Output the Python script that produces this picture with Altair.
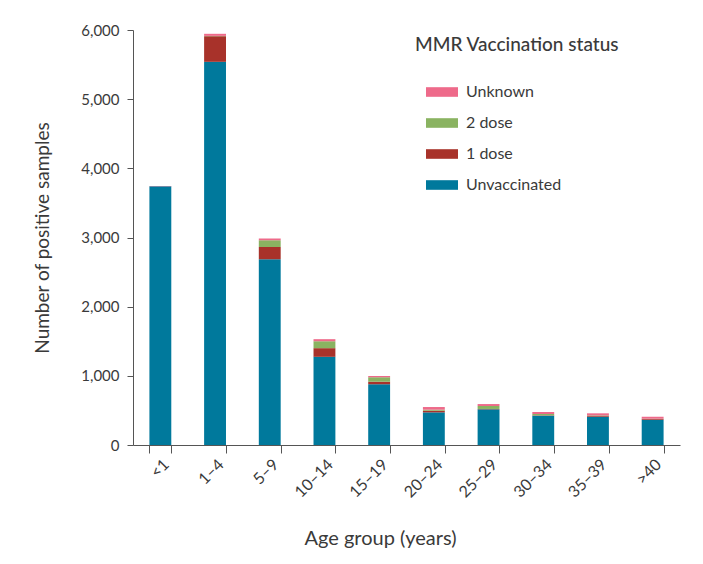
import altair as alt
import pandas as pd

age_groups = ["<1", "1–4", "5–9", "10–14", "15–19", "20–24", "25–29", "30–34", "35–39", ">40"]
unvaccinated = [3740, 5540, 2685, 1275, 877, 472, 516, 424, 409, 366]
dose1 = [0, 370, 177, 125, 38, 24, 5, 5, 15, 10]
dose2 = [0, 5, 100, 100, 63, 15, 43, 19, 5, 5]
unknown = [5, 30, 25, 30, 19, 38, 28, 29, 29, 28]

statuses = ["Unknown", "2 dose", "1 dose", "Unvaccinated"]
colors = ["#EE6A8A", "#8AB361", "#A8322A", "#00799C"]
y_ticks = [0, 1000, 2000, 3000, 4000, 5000, 6000]

series = {"Unvaccinated": unvaccinated, "1 dose": dose1, "2 dose": dose2, "Unknown": unknown}
stack_order = {"Unvaccinated": 0, "1 dose": 1, "2 dose": 2, "Unknown": 3}

rows = []
for status, vals in series.items():
    for g, v in zip(age_groups, vals):
        rows.append({"age": g, "status": status, "value": v, "ord": stack_order[status]})
df = pd.DataFrame(rows)

FONT = "Lato"
TXT = "#3a3a3a"

chart = alt.Chart(df).mark_bar().encode(
    x=alt.X("age:N", sort=age_groups,
            scale=alt.Scale(paddingInner=0.6, paddingOuter=0.3),
            axis=alt.Axis(title="Age group (years)", labelAngle=-45, tickBand="extent",
                          labelFontSize=16, labelPadding=3, tickSize=8,
                          titleFontSize=20, titleFontWeight="normal",
                          titleX=247, titleY=93, titleBaseline="middle")),
    y=alt.Y("value:Q", stack="zero",
            scale=alt.Scale(domain=[0, 6000], nice=False),
            axis=alt.Axis(title="Number of positive samples", values=y_ticks, format=",d",
                          labelFontSize=15, labelPadding=8, tickSize=6, grid=False,
                          titleFontSize=19, titleFontWeight="normal", titlePadding=28)),
    color=alt.Color("status:N", scale=alt.Scale(domain=statuses, range=colors),
                    legend=alt.Legend(title="MMR Vaccination status", orient="none",
                                      legendX=282, legendY=6, titleLimit=400,
                                      titleFontSize=19, titleFontWeight=500, titlePadding=21,
                                      labelFontSize=16, rowPadding=7, labelLimit=300,
                                      symbolType="M-1,-0.3H1V0.3H-1Z", symbolSize=1024,
                                      symbolStrokeWidth=0, symbolOffset=11, labelOffset=8)),
    order=alt.Order("ord:Q"),
).properties(
    width=547, height=415,
    autosize=alt.AutoSizeParams(type="none"),
    padding={"left": 125, "top": 22, "right": 15, "bottom": 108},
).configure(font=FONT).configure_view(stroke=None).configure_axis(
    domainColor="#555555", tickColor="#555555", labelColor=TXT, titleColor=TXT,
    labelFont=FONT, titleFont=FONT,
).configure_legend(labelColor=TXT, titleColor=TXT, labelFont=FONT, titleFont=FONT)

chart.save("out.html", embed_options={"renderer": "svg", "actions": False})
